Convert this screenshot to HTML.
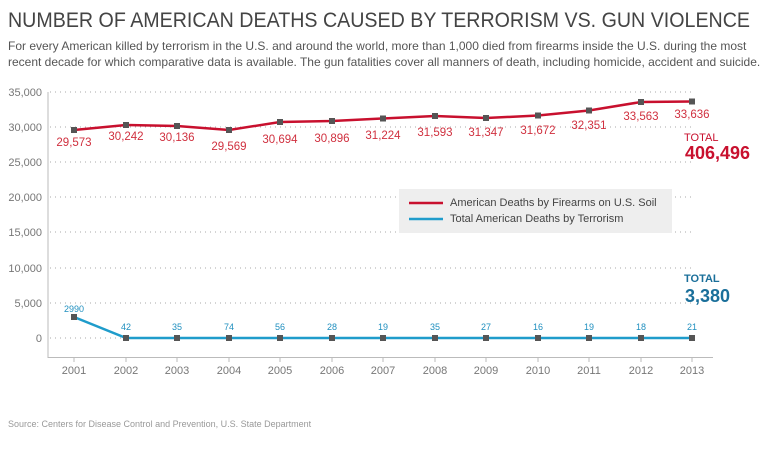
<!DOCTYPE html>
<html><head><meta charset="utf-8"><style>
body{margin:0;background:#fff;width:768px;height:444px;overflow:hidden;font-family:"Liberation Sans",sans-serif}
</style></head><body>
<svg width="768" height="444" xmlns="http://www.w3.org/2000/svg" font-family="Liberation Sans, sans-serif">
<text x="8" y="27" font-size="21" fill="#444" textLength="742" lengthAdjust="spacingAndGlyphs">NUMBER OF AMERICAN DEATHS CAUSED BY TERRORISM VS. GUN VIOLENCE</text>
<text x="8" y="50" font-size="12" fill="#555">For every American killed by terrorism in the U.S. and around the world, more than 1,000 died from firearms inside the U.S. during the most</text>
<text x="8" y="66" font-size="12" fill="#555">recent decade for which comparative data is available. The gun fatalities cover all manners of death, including homicide, accident and suicide.</text>
<g stroke="#aaa" stroke-width="1" stroke-dasharray="1,4">
<line x1="50" y1="92" x2="692" y2="92"/><line x1="50" y1="127" x2="692" y2="127"/><line x1="50" y1="162" x2="692" y2="162"/><line x1="50" y1="197" x2="692" y2="197"/><line x1="50" y1="232" x2="692" y2="232"/><line x1="50" y1="268" x2="692" y2="268"/><line x1="50" y1="303" x2="692" y2="303"/><line x1="50" y1="338" x2="692" y2="338"/>
</g>
<g font-size="11" fill="#777" text-anchor="end">
<text x="42" y="96">35,000</text><text x="42" y="131">30,000</text><text x="42" y="166">25,000</text><text x="42" y="201">20,000</text><text x="42" y="236">15,000</text><text x="42" y="272">10,000</text><text x="42" y="307">5,000</text><text x="42" y="342">0</text>
</g>
<line x1="48" y1="92" x2="48" y2="358" stroke="#bbb"/>
<line x1="48" y1="357.5" x2="713" y2="357.5" stroke="#bbb"/>
<g stroke="#bbb"><line x1="74" y1="357" x2="74" y2="362"/><line x1="126" y1="357" x2="126" y2="362"/><line x1="177" y1="357" x2="177" y2="362"/><line x1="229" y1="357" x2="229" y2="362"/><line x1="280" y1="357" x2="280" y2="362"/><line x1="332" y1="357" x2="332" y2="362"/><line x1="383" y1="357" x2="383" y2="362"/><line x1="435" y1="357" x2="435" y2="362"/><line x1="486" y1="357" x2="486" y2="362"/><line x1="538" y1="357" x2="538" y2="362"/><line x1="589" y1="357" x2="589" y2="362"/><line x1="641" y1="357" x2="641" y2="362"/><line x1="692" y1="357" x2="692" y2="362"/></g>
<g font-size="11" fill="#777" text-anchor="middle">
<text x="74" y="374">2001</text><text x="126" y="374">2002</text><text x="177" y="374">2003</text><text x="229" y="374">2004</text><text x="280" y="374">2005</text><text x="332" y="374">2006</text><text x="383" y="374">2007</text><text x="435" y="374">2008</text><text x="486" y="374">2009</text><text x="538" y="374">2010</text><text x="589" y="374">2011</text><text x="641" y="374">2012</text><text x="692" y="374">2013</text>
</g>
<polyline fill="none" stroke="#c8102e" stroke-width="2.5" points="74,130 126,125 177,126 229,130 280,122 332,121 383,118.5 435,116 486,118 538,115.5 589,110.5 641,102 692,101.5"/>
<polyline fill="none" stroke="#1f9ccb" stroke-width="2.5" points="74,317 126,338 177,338 229,338 280,338 332,338 383,338 435,338 486,338 538,338 589,338 641,338 692,338"/>
<g fill="#555">
<rect x="71" y="127" width="6" height="6"/><rect x="123" y="122" width="6" height="6"/><rect x="174" y="123" width="6" height="6"/><rect x="226" y="127" width="6" height="6"/><rect x="277" y="119" width="6" height="6"/><rect x="329" y="118" width="6" height="6"/><rect x="380" y="115.5" width="6" height="6"/><rect x="432" y="113" width="6" height="6"/><rect x="483" y="115" width="6" height="6"/><rect x="535" y="112.5" width="6" height="6"/><rect x="586" y="107.5" width="6" height="6"/><rect x="638" y="99" width="6" height="6"/><rect x="689" y="98.5" width="6" height="6"/>
<rect x="71" y="314" width="6" height="6"/><rect x="123" y="335" width="6" height="6"/><rect x="174" y="335" width="6" height="6"/><rect x="226" y="335" width="6" height="6"/><rect x="277" y="335" width="6" height="6"/><rect x="329" y="335" width="6" height="6"/><rect x="380" y="335" width="6" height="6"/><rect x="432" y="335" width="6" height="6"/><rect x="483" y="335" width="6" height="6"/><rect x="535" y="335" width="6" height="6"/><rect x="586" y="335" width="6" height="6"/><rect x="638" y="335" width="6" height="6"/><rect x="689" y="335" width="6" height="6"/>
</g>
<g font-size="11.5" fill="#d0303f" text-anchor="middle">
<text x="74" y="146">29,573</text><text x="126" y="140">30,242</text><text x="177" y="141">30,136</text><text x="229" y="150">29,569</text><text x="280" y="143">30,694</text><text x="332" y="142">30,896</text><text x="383" y="139">31,224</text><text x="435" y="136">31,593</text><text x="486" y="136">31,347</text><text x="538" y="134">31,672</text><text x="589" y="129">32,351</text><text x="641" y="120">33,563</text><text x="692" y="118">33,636</text>
</g>
<g font-size="9" fill="#1f8fbf" text-anchor="middle">
<text x="74" y="312">2990</text><text x="126" y="330">42</text><text x="177" y="330">35</text><text x="229" y="330">74</text><text x="280" y="330">56</text><text x="332" y="330">28</text><text x="383" y="330">19</text><text x="435" y="330">35</text><text x="486" y="330">27</text><text x="538" y="330">16</text><text x="589" y="330">19</text><text x="641" y="330">18</text><text x="692" y="330">21</text>
</g>
<text x="684" y="141" font-size="11" fill="#c8102e">TOTAL</text>
<text x="685" y="159" font-size="18" font-weight="bold" fill="#c8102e">406,496</text>
<text x="684" y="282" font-size="11" font-weight="bold" fill="#1a6f9a">TOTAL</text>
<text x="685" y="302" font-size="18" font-weight="bold" fill="#1a6f9a">3,380</text>
<rect x="399" y="189" width="273" height="44" fill="#eeeeee"/>
<line x1="409" y1="203" x2="443" y2="203" stroke="#c8102e" stroke-width="2.5"/>
<line x1="409" y1="219" x2="443" y2="219" stroke="#1f9ccb" stroke-width="2.5"/>
<text x="450" y="206" font-size="11" fill="#444">American Deaths by Firearms on U.S. Soil</text>
<text x="450" y="222" font-size="11" fill="#444">Total American Deaths by Terrorism</text>
<text x="8" y="427" font-size="9" fill="#999">Source: Centers for Disease Control and Prevention, U.S. State Department</text>
</svg>
</body></html>
